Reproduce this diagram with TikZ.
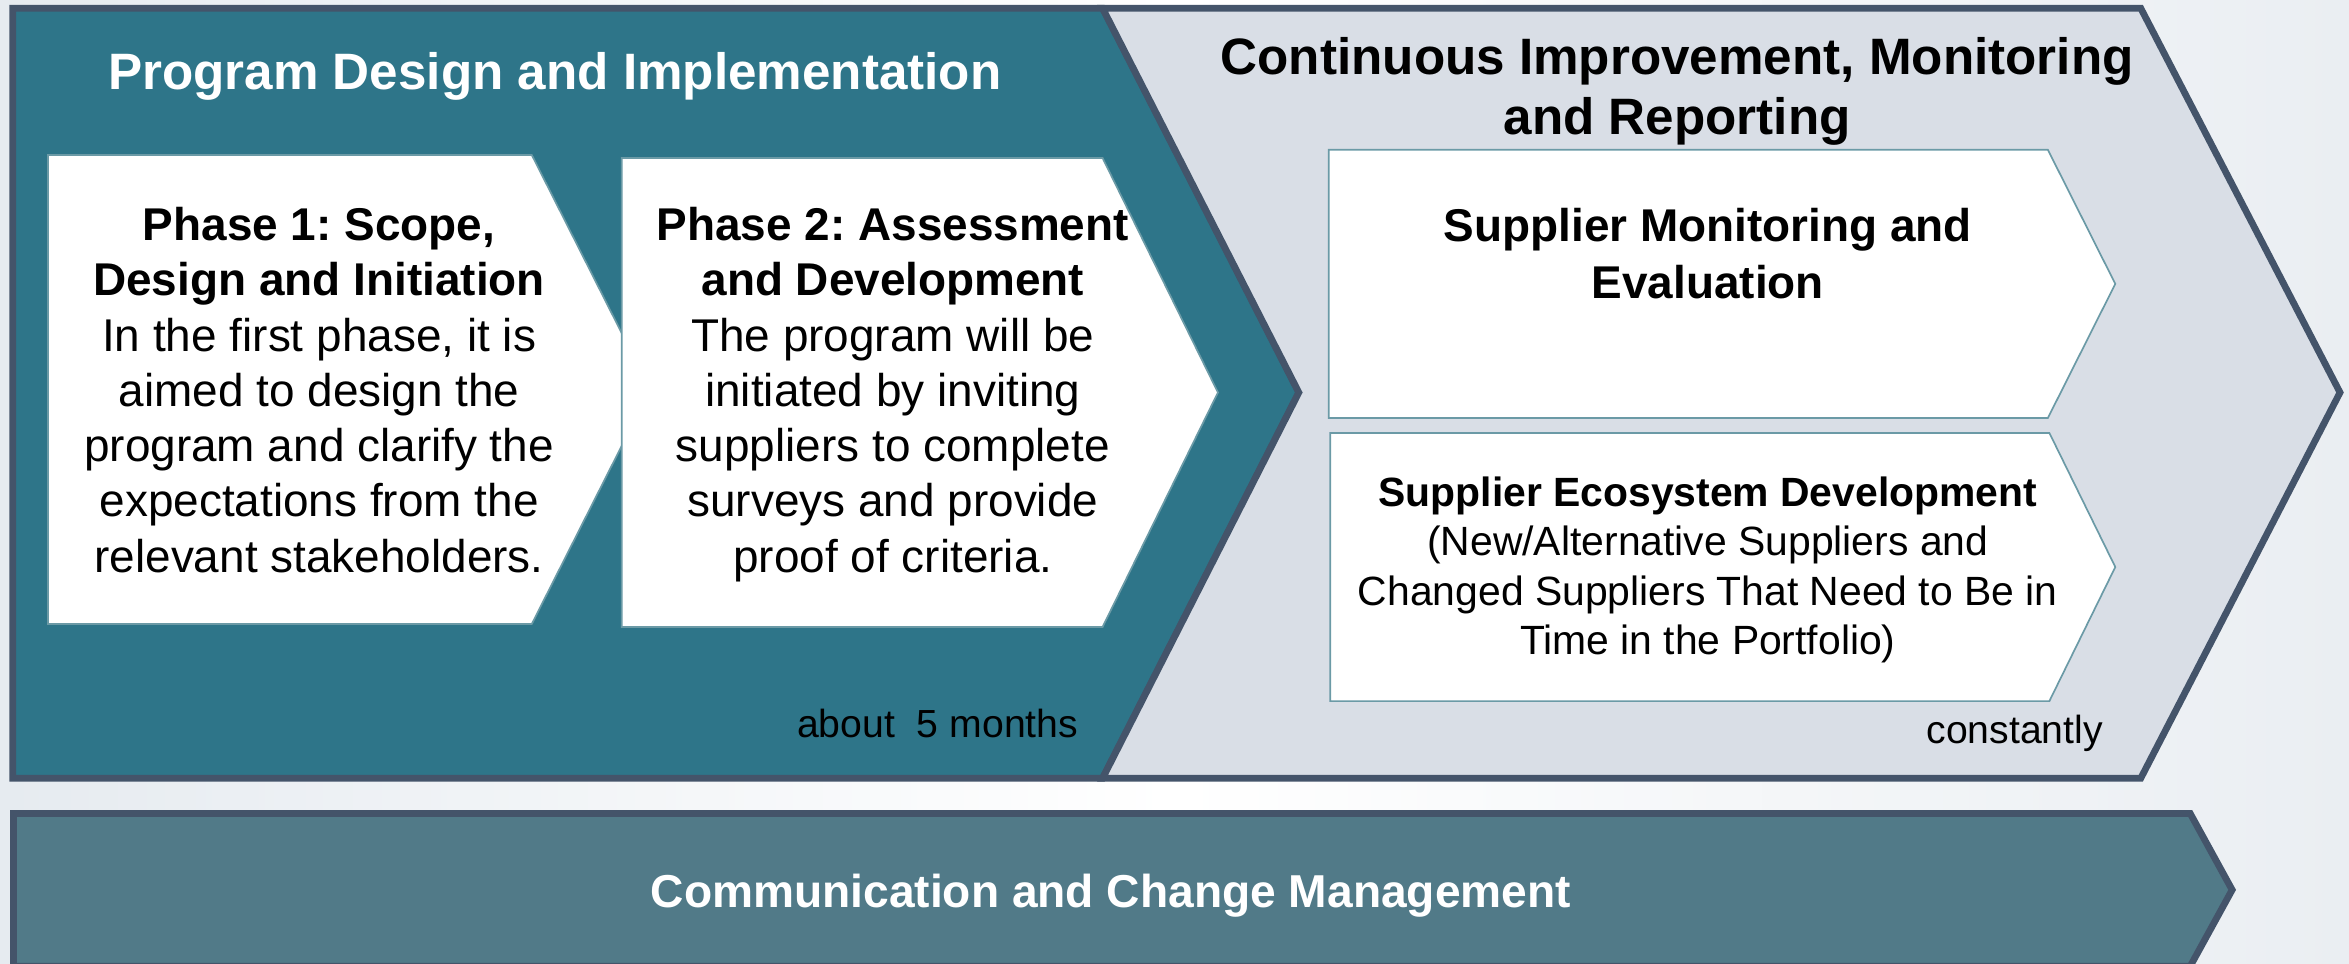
\documentclass[tikz,border=0pt]{standalone}
\usepackage{fontspec}
\setmainfont{Liberation Sans}
\frenchspacing
\definecolor{frameline}{HTML}{44546A}
\definecolor{designteal}{HTML}{2E7589}
\definecolor{monitorgray}{HTML}{D9DEE6}
\definecolor{commteal}{HTML}{517A88}
\definecolor{boxline}{HTML}{6B9AA6}
\definecolor{bgleft}{HTML}{E6EBF0}
\definecolor{bgright}{HTML}{EAEEF2}
\begin{document}
\begin{tikzpicture}[x=0.025cm,y=-0.025cm,
	frame/.style={draw=frameline,line width=3.2pt,line join=miter},
	phasebox/.style={draw=boxline,fill=white,line width=0.8pt},
	bigtitle/.style={font=\fontsize{24.3}{28.45}\selectfont\bfseries,align=center,inner sep=0pt},
	body/.style={font=\fontsize{21.8}{26.24}\selectfont,align=center,inner sep=0pt},
	small/.style={font=\fontsize{19.4}{23.47}\selectfont,align=center,inner sep=0pt},
	note/.style={font=\fontsize{18.6}{22}\selectfont,inner sep=0pt}]
				\useasboundingbox (0,0) rectangle (1568,643);
				\shade[left color=bgleft,right color=bgright,middle color=white] (0,0) rectangle (1568,643);
				\begin{scope}
				\clip (0,0) rectangle (1568,643);
				\filldraw[frame,fill=designteal] (8.5,5.5) -- (736,5.5) -- (867,262) -- (736,519.5) -- (8.5,519.5) -- cycle;
				\filldraw[frame,fill=monitorgray] (736,5.5) -- (1429,5.5) -- (1562,262) -- (1429,519.5) -- (736,519.5) -- (867,262) -- cycle;
				\filldraw[frame,fill=commteal] (9,543) -- (1462,543) -- (1490,594) -- (1462,645) -- (9,645) -- cycle;
				\end{scope}
				\filldraw[phasebox] (32,103.5) -- (355,103.5) -- (434,260) -- (355,416.5) -- (32,416.5) -- cycle;
				\filldraw[phasebox] (415,105.5) -- (736,105.5) -- (813,262) -- (736,418.5) -- (415,418.5) -- cycle;
				\filldraw[phasebox] (887,100) -- (1367,100) -- (1412,189.5) -- (1367,279) -- (887,279) -- cycle;
				\filldraw[phasebox] (888,289) -- (1368,289) -- (1412,378.5) -- (1368,468) -- (888,468) -- cycle;
				\node[bigtitle,text=white,anchor=base west] (design) at (72,60) {Program Design and Implementation};
				\node[bigtitle,anchor=base] (monitor) at (1119.5,90) {Continuous Improvement, Monitoring\\and Reporting};
				\node[body,anchor=base] (phaseone) at (213,382) {\textbf{Phase 1: Scope,}\\\textbf{Design and Initiation}\\In the first phase, it is\\aimed to design the\\program and clarify the\\expectations from the\\relevant stakeholders.};
				\node[body,anchor=base] (phasetwo) at (596,382) {\textbf{Phase 2: Assessment}\\\textbf{and Development}\\The program will be\\initiated by inviting\\suppliers to complete\\surveys and provide\\proof of criteria.};
				\node[body,font=\fontsize{21.8}{27}\selectfont\bfseries,anchor=base] (evaluation) at (1140,199) {Supplier Monitoring and\\Evaluation};
				\node[small,anchor=base] (ecosystem) at (1140,437) {\textbf{Supplier Ecosystem Development}\\(New/Alternative Suppliers and\\Changed Suppliers That Need to Be in\\Time in the Portfolio)};
				\node[note,anchor=base east] (months) at (720,492) {about\ \ 5 months};
				\node[note,anchor=base east] (constantly) at (1404,496) {constantly};
				\node[bigtitle,font=\fontsize{21.9}{26}\selectfont\bfseries,text=white,anchor=base] (comm) at (741.5,605.6) {Communication and Change Management};
\end{tikzpicture}
\end{document}
